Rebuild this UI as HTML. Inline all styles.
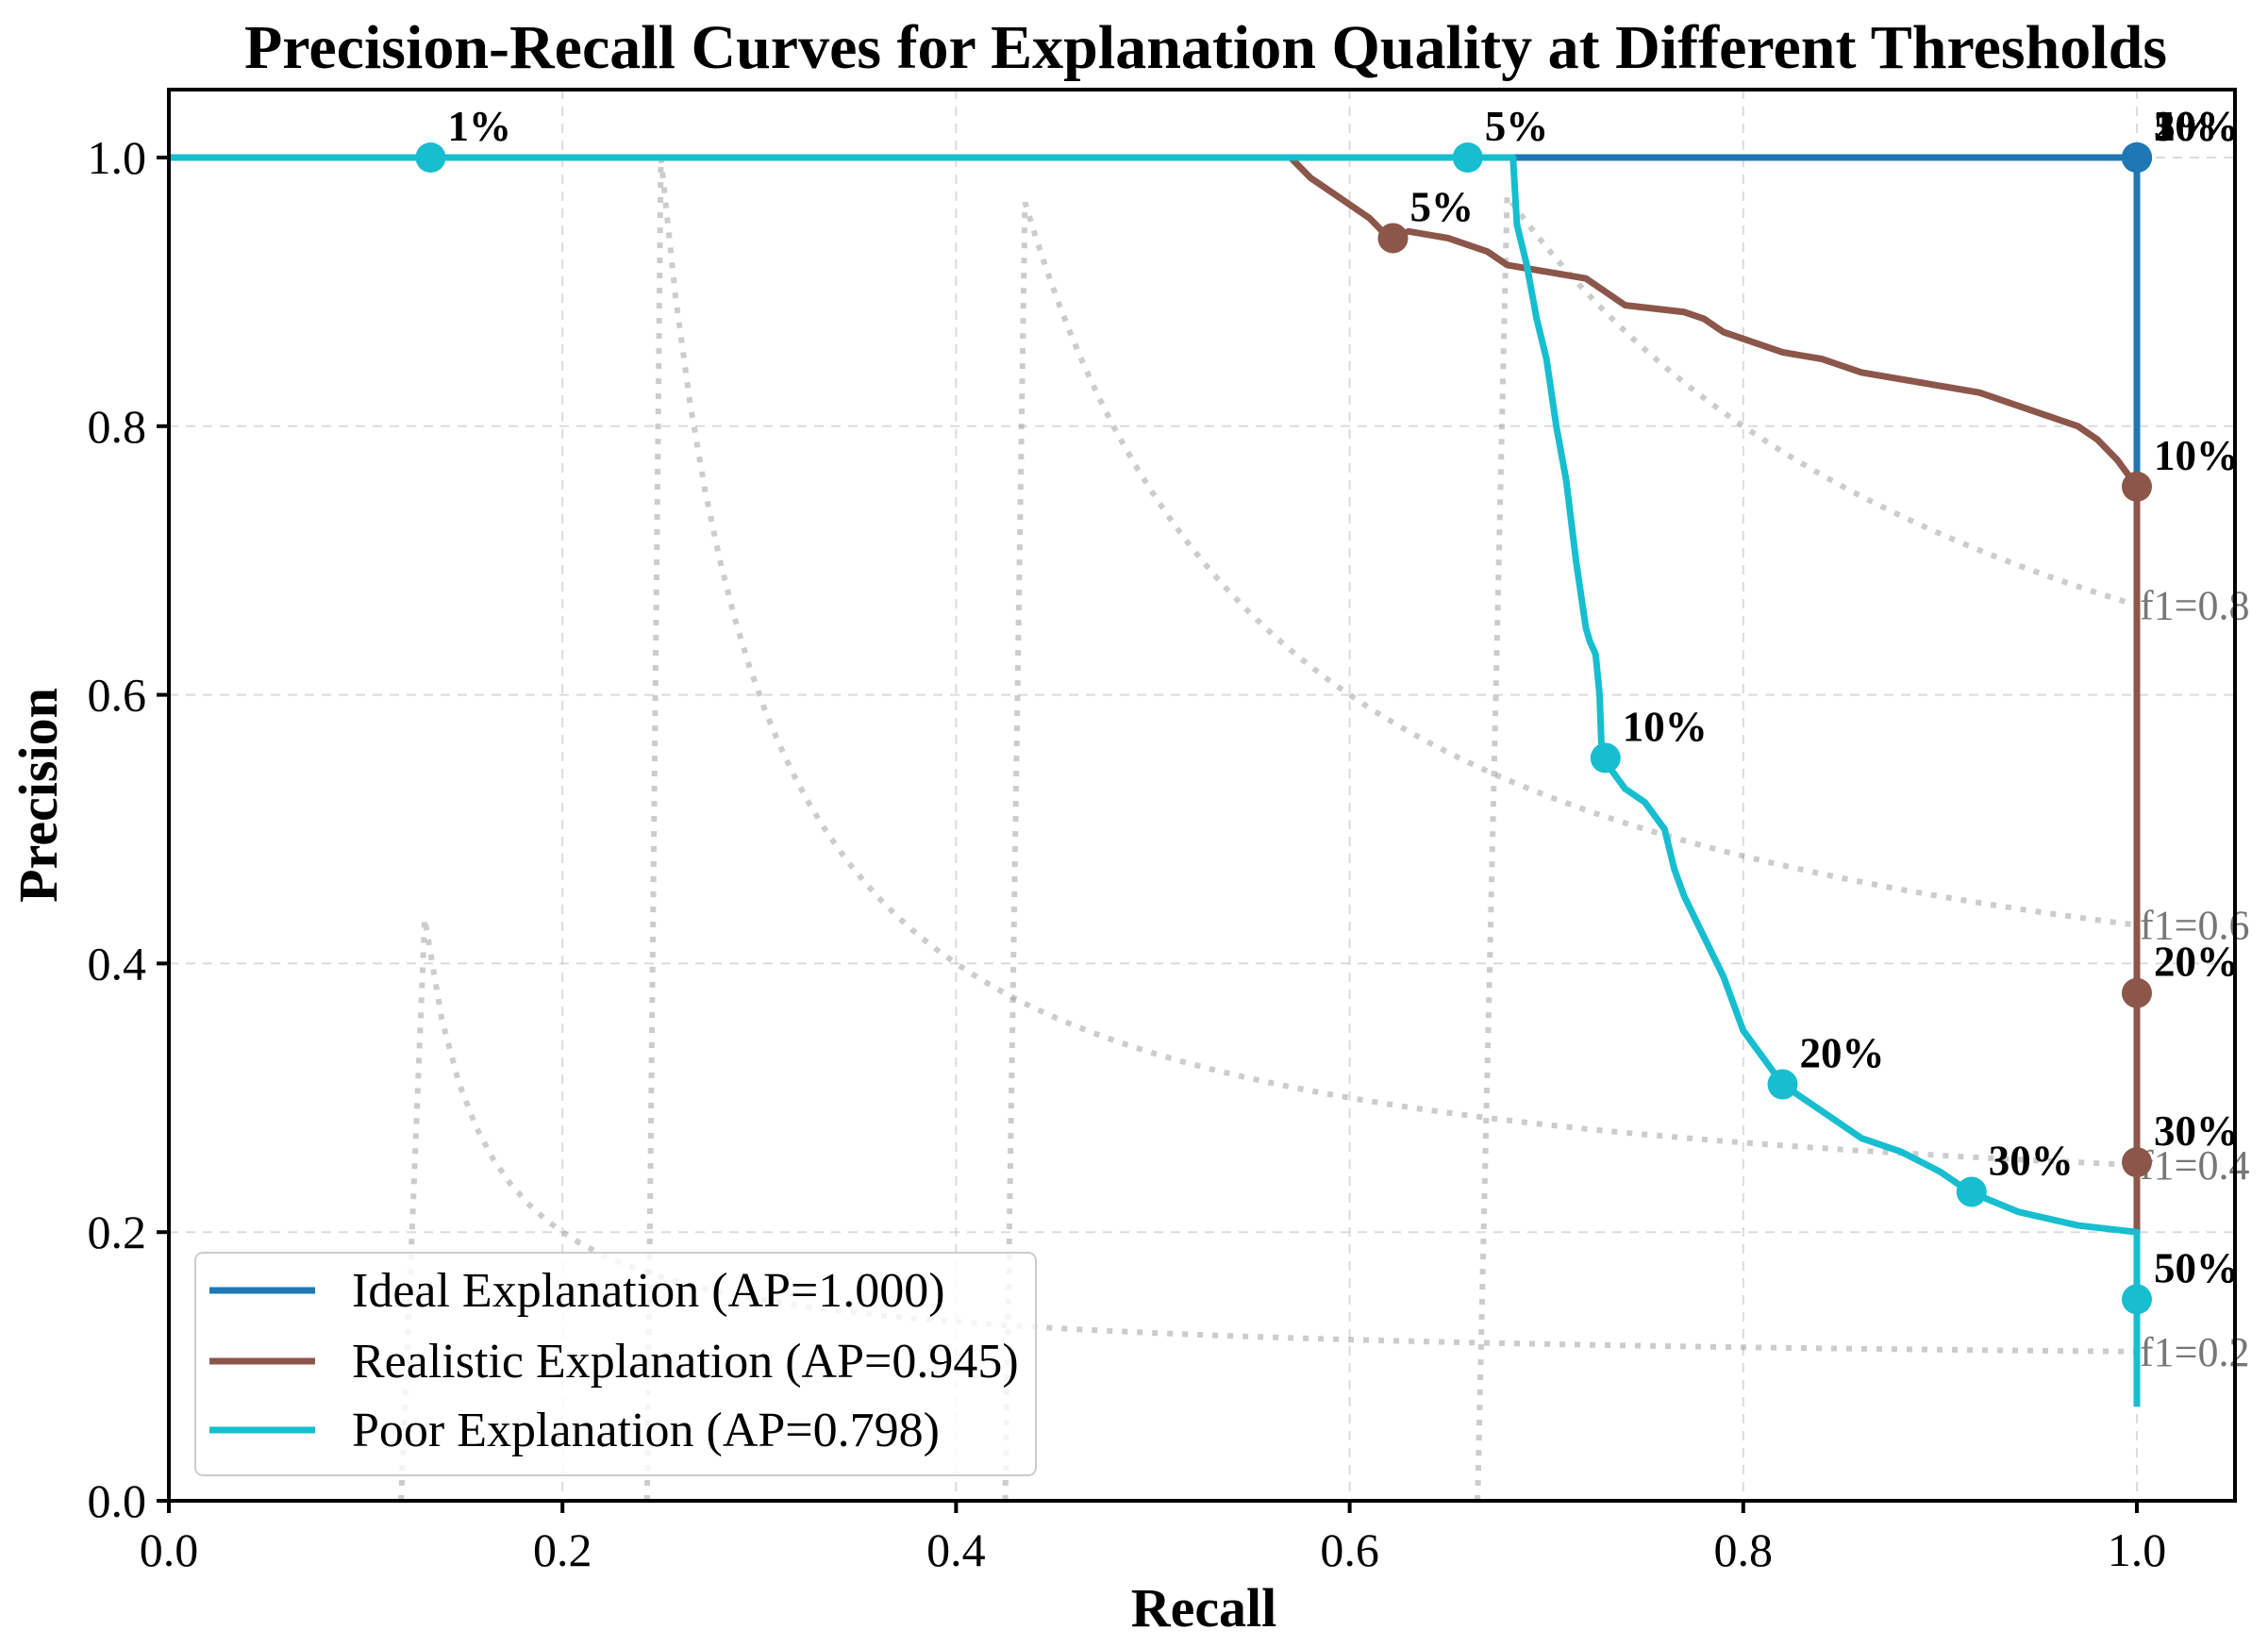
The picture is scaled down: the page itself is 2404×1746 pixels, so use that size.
<!DOCTYPE html>
<html><head><meta charset="utf-8"><style>
html,body{margin:0;padding:0;background:#fff;}
svg{display:block;font-family:"Liberation Serif",serif;}
</style></head><body>
<svg id="chart" width="2404" height="1746" viewBox="0 0 2404 1746">
<g id="grid"></g>
<g id="iso"></g>
<g id="series"></g>
<g id="axes"></g>
<text x="1278" y="72" text-anchor="middle" font-size="66" font-weight="bold">Precision-Recall Curves for Explanation Quality at Different Thresholds</text>
<text x="1276" y="1724" text-anchor="middle" font-size="58" font-weight="bold">Recall</text>
<text x="0" y="0" transform="translate(60,843) rotate(-90)" text-anchor="middle" font-size="58" font-weight="bold">Precision</text>
<g id="legend">
<rect x="207" y="1328" width="891" height="236" rx="8" fill="#fff" fill-opacity="0.8" stroke="#ccc" stroke-width="2"/>
<line x1="222" y1="1368" x2="334" y2="1368" stroke="#1f77b4" stroke-width="7"/>
<text x="373" y="1385" font-size="52">Ideal Explanation (AP=1.000)</text>
<line x1="222" y1="1443" x2="334" y2="1443" stroke="#8c564b" stroke-width="7"/>
<text x="373" y="1460" font-size="52">Realistic Explanation (AP=0.945)</text>
<line x1="222" y1="1516" x2="334" y2="1516" stroke="#17becf" stroke-width="7"/>
<text x="373" y="1533" font-size="52">Poor Explanation (AP=0.798)</text>
</g>
</svg>
<script>
const ticks=[0,0.2,0.4,0.6,0.8,1.0];
const tickLabels=["0.0","0.2","0.4","0.6","0.8","1.0"];
const f1Levels=[0.2,0.4,0.6,0.8];
const isoStart=[0.13,0.25,0.435,0.68];
const isoFoot=[0.118,0.243,0.425,0.665];
const idealX=[0,1.0,1.0];
const idealY=[1.0,1.0,0.2];
const realX=[0,0.57,0.58,0.6,0.61,0.62,0.63,0.65,0.67,0.68,0.7,0.72,0.73,0.74,0.77,0.78,0.79,0.8,0.82,0.84,0.86,0.88,0.9,0.92,0.93,0.95,0.97,0.98,0.99,1.0,1.0];
const realY=[1.0,1.0,0.985,0.965,0.955,0.94,0.945,0.94,0.93,0.92,0.915,0.91,0.9,0.89,0.885,0.88,0.87,0.865,0.855,0.85,0.84,0.835,0.83,0.825,0.82,0.81,0.8,0.79,0.775,0.755,0.2];
const poorX=[0,0.683,0.685,0.69,0.695,0.7,0.705,0.71,0.715,0.72,0.722,0.725,0.727,0.728,0.73,0.74,0.75,0.76,0.765,0.77,0.78,0.79,0.8,0.81,0.82,0.84,0.86,0.88,0.9,0.915,0.94,0.97,1.0,1.0];
const poorY=[1.0,1.0,0.95,0.92,0.88,0.85,0.8,0.76,0.7,0.65,0.64,0.63,0.6,0.56,0.55,0.53,0.52,0.5,0.47,0.45,0.42,0.39,0.35,0.33,0.31,0.29,0.27,0.26,0.245,0.23,0.215,0.205,0.2,0.07];
const idealMkX=[1,1,1,1,1,1];
const idealMkY=[1,1,1,1,1,1];
const idealMkL=["1%","5%","10%","20%","30%","50%"];
const realMkX=[0.622,1.0,1.0,1.0];
const realMkY=[0.94,0.755,0.378,0.252];
const realMkL=["5%","10%","20%","30%"];
const poorMkX=[0.133,0.66,0.73,0.82,0.916,1.0];
const poorMkY=[1.0,1.0,0.553,0.31,0.23,0.15];
const poorMkL=["1%","5%","10%","20%","30%","50%"];

const X=v=>179+v*2086, Y=v=>1591-v*1424;
const NS="http://www.w3.org/2000/svg";
function mk(tag,parent,attrs){const e=document.createElementNS(NS,tag);for(const k in attrs)e.setAttribute(k,attrs[k]);parent.appendChild(e);return e;}
const grid=document.getElementById('grid'),axes=document.getElementById('axes'),iso=document.getElementById('iso'),ser=document.getElementById('series');
ticks.forEach((t,i)=>{
 let g=mk('line',grid,{x1:X(t),x2:X(t),y1:95,y2:1591,stroke:'#ccc','stroke-width':2,'stroke-dasharray':'10,8','stroke-opacity':0.7});
 
 
 let h=mk('line',grid,{x1:179,x2:2369,y1:Y(t),y2:Y(t),stroke:'#ccc','stroke-width':2,'stroke-dasharray':'10,8','stroke-opacity':0.7});
 
 
 let a=mk('line',axes,{x1:X(t),x2:X(t),y1:1591,y2:1604,stroke:'#000','stroke-width':4});
 
 
 let b=mk('line',axes,{x1:166,x2:179,y1:Y(t),y2:Y(t),stroke:'#000','stroke-width':4});
 
 
 let tx=mk('text',axes,{x:X(t),y:1660,'text-anchor':'middle','font-size':50});tx.textContent=tickLabels[i];
 
 
 let ty=mk('text',axes,{x:155,y:Y(t)+17,'text-anchor':'end','font-size':50});ty.textContent=tickLabels[i];
 
 
});
let fr=mk('rect',axes,{x:179,y:95,width:2190,height:1496,fill:'none',stroke:'#000','stroke-width':4});


f1Levels.forEach((f,i)=>{
 let pts=[[X(isoFoot[i]),Y(0)]];
 for(let k=0;k<=100;k++){const x=isoStart[i]+(1-isoStart[i])*k/100;const y=f*x/(2*x-f);pts.push([X(x),Y(y)]);}
 let p=mk('polyline',iso,{points:pts.map(q=>q.join(',')).join(' '),fill:'none',stroke:'#999','stroke-opacity':0.5,'stroke-width':6,'stroke-dasharray':'6,10'});
 
 
 let t=mk('text',iso,{x:2268,y:Y(f/(2-f))+15,'font-size':44,fill:'#777'});t.textContent='f1='+f;
 
 
});
function series(xs,ys,color,name){
 let p=mk('polyline',ser,{points:xs.map((x,i)=>X(x)+','+Y(ys[i])).join(' '),fill:'none',stroke:color,'stroke-width':7,'stroke-linejoin':'round'});
 
 
}
function markers(xs,ys,ls,color,name){
 xs.forEach((x,i)=>{
  let c=mk('circle',ser,{cx:X(x),cy:Y(ys[i]),r:16,fill:color});
  
  
  let t=mk('text',ser,{x:X(x)+18,y:Y(ys[i])-18,'font-size':45,'font-weight':'bold'});t.textContent=ls[i];
  
  
 });
}
series(idealX,idealY,'#1f77b4','ideal');
series(realX,realY,'#8c564b','realistic');
series(poorX,poorY,'#17becf','poor');
markers(idealMkX,idealMkY,idealMkL,'#1f77b4','ideal');
markers(realMkX,realMkY,realMkL,'#8c564b','realistic');
markers(poorMkX,poorMkY,poorMkL,'#17becf','poor');
</script>
</body></html>
